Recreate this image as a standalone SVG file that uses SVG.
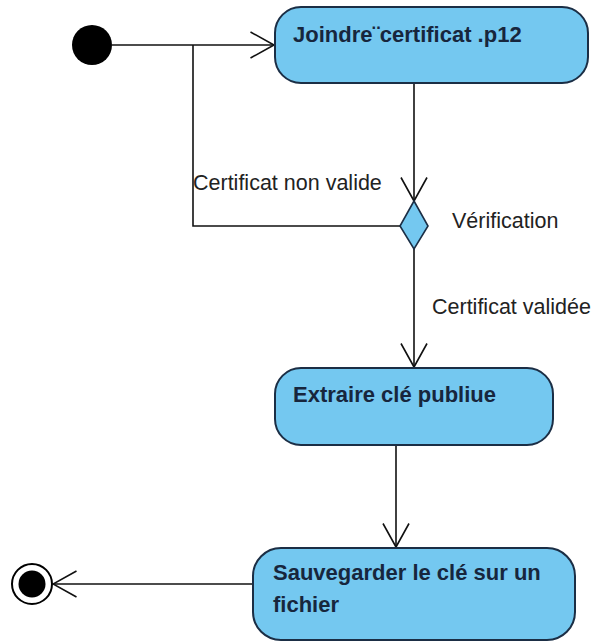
<svg xmlns="http://www.w3.org/2000/svg" width="595" height="644" viewBox="0 0 595 644">
<style>
.act{fill:#74C8F0;stroke:#1B2E45;stroke-width:2}
.lbl{font-family:"Liberation Sans",Arial,sans-serif;font-size:22px;font-weight:bold;fill:#17263D}
.txt{font-family:"Liberation Sans",Arial,sans-serif;font-size:21.5px;fill:#222}
.edge{fill:none;stroke:#111;stroke-width:1.6}
</style>
<defs>
<marker id="open" viewBox="0 0 26 28" refX="24.5" refY="14" markerWidth="26" markerHeight="28" markerUnits="userSpaceOnUse" orient="auto">
<path d="M1,1 L24.5,14 L1,27" fill="none" stroke="#111" stroke-width="1.6"/>
</marker>
</defs>
<rect width="595" height="644" fill="#fff"/>
<g id="connectors">
<path class="edge" d="M112,45 L274,45" marker-end="url(#open)"/>
<path class="edge" d="M414,83 L414,201" marker-end="url(#open)"/>
<path class="edge" d="M400,226 L193,226 L193,45"/>
<path class="edge" d="M414,249 L414,367" marker-end="url(#open)"/>
<path class="edge" d="M396,445 L396,547" marker-end="url(#open)"/>
<path class="edge" d="M253,584 L53,584" marker-end="url(#open)"/>
<text class="txt" x="193" y="190">Certificat non valide</text>
<text class="txt" x="432" y="314">Certificat validée</text>
</g>
<g id="initial"><circle cx="92" cy="45" r="20" fill="#000"/></g>
<g id="joindre">
<rect class="act" x="275" y="7" width="313" height="76" rx="26"/>
<text class="lbl" x="293" y="42">Joindre¨certificat .p12</text>
</g>
<g id="verification">
<path d="M414,201 L428,226 L414,249 L400,226 Z" fill="#74C8F0" stroke="#1B2E45" stroke-width="1.6"/>
<text class="txt" x="452" y="228">Vérification</text>
</g>
<g id="extraire">
<rect class="act" x="275" y="368" width="278" height="77" rx="26"/>
<text class="lbl" x="293" y="402">Extraire clé publiue</text>
</g>
<g id="sauvegarder">
<rect class="act" x="253" y="548" width="322" height="92" rx="28"/>
<text class="lbl" x="273" y="580">Sauvegarder le clé sur un</text>
<text class="lbl" x="273" y="612">fichier</text>
</g>
<g id="final">
<circle cx="32" cy="584" r="20" fill="#fff" stroke="#000" stroke-width="2"/>
<circle cx="32" cy="584" r="13.5" fill="#000"/>
</g>
</svg>
